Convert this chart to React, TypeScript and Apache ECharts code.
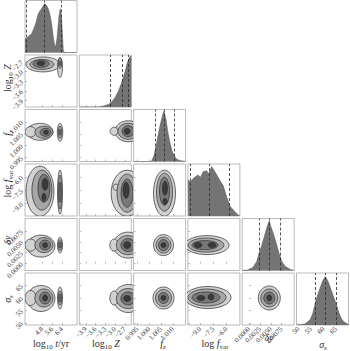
import React, { useEffect, useRef } from 'react';
import * as echarts from 'echarts';

// ---- parameter axes ----
const P_MIN = [3.4, -4.1, 0.9933, -10.4, -0.0016, 49.2];
const P_MAX = [7.6, -2.5, 1.0154, -4.5, 0.0104, 70];
const TICKS_T = [4.8, 5.6, 6.4];
const TICKS_Z = [-3.9, -3.6, -3.3, -3.0, -2.7];
const TICKS_FZ = [0.995, 1.0, 1.005, 1.01];
const TICKS_FV = [-9.0, -7.5, -6.0];
const TICKS_DY = [0.0, 0.0025, 0.005, 0.0075];
const TICKS_S = [50, 55, 60, 65];
const TICKS = [TICKS_T, TICKS_Z, TICKS_FZ, TICKS_FV, TICKS_DY, TICKS_S];
const DEC = [1, 1, 3, 1, 4, 0];

// ---- 1D histograms (x, relative height) ----
const HX_T = [3.40, 3.55, 3.67, 3.80, 3.94, 4.08, 4.21, 4.34, 4.47, 4.60, 4.74, 4.88, 5.01, 5.15, 5.26, 5.36, 5.46, 5.55, 5.68, 5.82, 5.92, 6.00, 6.08, 6.14, 6.20, 6.25, 6.31, 6.36, 6.43, 6.49, 6.60, 7.60];
const HY_T = [0.26, 0.28, 0.31, 0.33, 0.36, 0.44, 0.52, 0.62, 0.74, 0.80, 0.84, 0.90, 0.94, 0.90, 0.85, 0.78, 0.67, 0.55, 0.30, 0.10, 0.16, 0.30, 0.52, 0.68, 0.78, 0.84, 0.76, 0.62, 0.30, 0.04, 0.0, 0.0];
const Q_T = [3.48, 4.96, 6.36];

const HX_Z = [-4.10, -3.50, -3.35, -3.20, -3.10, -3.00, -2.90, -2.80, -2.70, -2.62, -2.56, -2.52, -2.50];
const HY_Z = [0.0, 0.0, 0.02, 0.05, 0.10, 0.18, 0.30, 0.46, 0.66, 0.85, 0.95, 0.98, 0.90];
const Q_Z = [-3.15, -2.78, -2.60];

const HX_FZ = [0.9933, 1.0005, 1.0011, 1.0020, 1.0029, 1.0037, 1.0046, 1.0054, 1.0062, 1.0071, 1.0079, 1.0088, 1.0096, 1.0105, 1.0113, 1.0122, 1.0139, 1.0154];
const HY_FZ = [0.0, 0.0, 0.02, 0.12, 0.30, 0.50, 0.70, 0.85, 0.97, 0.80, 0.55, 0.35, 0.20, 0.12, 0.06, 0.03, 0.01, 0.0];
const Q_FZ = [1.0024, 1.0062, 1.0105];

const HX_FV = [-10.40, -10.37, -10.10, -9.80, -9.50, -9.23, -9.00, -8.66, -8.28, -8.02, -7.71, -7.34, -6.96, -6.39, -6.01, -5.63, -5.07, -4.69, -4.50];
const HY_FV = [0.69, 0.69, 0.66, 0.72, 0.76, 0.79, 0.74, 0.85, 0.87, 0.81, 0.95, 0.85, 0.74, 0.58, 0.37, 0.19, 0.08, 0.02, 0.0];
const Q_FV = [-10.1, -8.02, -5.71];

const HX_DY = [-0.0016, -0.0003, 0.0009, 0.0018, 0.0023, 0.0029, 0.0035, 0.0040, 0.0046, 0.0052, 0.0058, 0.0064, 0.0069, 0.0075, 0.0083, 0.0095, 0.0104];
const HY_DY = [0.0, 0.01, 0.06, 0.18, 0.33, 0.48, 0.65, 0.80, 0.95, 0.80, 0.65, 0.48, 0.33, 0.18, 0.08, 0.02, 0.0];
const Q_DY = [0.00235, 0.00465, 0.0071];

const HX_S = [49.2, 50.0, 52.6, 54.65, 55.7, 56.7, 57.7, 58.7, 59.7, 60.7, 61.7, 62.7, 63.9, 65.1, 66.1, 67.15, 68.2, 69.2, 70.0];
const HY_S = [0.0, 0.0, 0.02, 0.10, 0.22, 0.42, 0.58, 0.72, 0.85, 0.93, 0.85, 0.72, 0.56, 0.40, 0.24, 0.12, 0.06, 0.03, 0.01];
const Q_S = [56.7, 60.7, 65.1];

const HX = [HX_T, HX_Z, HX_FZ, HX_FV, HX_DY, HX_S];
const HY = [HY_T, HY_Z, HY_FZ, HY_FV, HY_DY, HY_S];
const QS = [Q_T, Q_Z, Q_FZ, Q_FV, Q_DY, Q_S];

// ---- 2D contour levels: [level, x, y, halfWidthX, halfWidthY] ----
const C_Z_T = [
  [1, 4.85, -2.79, 1.37, 0.23], [1, 6.23, -2.88, 0.20, 0.31],
  [2, 4.77, -2.79, 0.97, 0.154], [2, 6.23, -2.76, 0.145, 0.154],
  [3, 4.69, -2.77, 0.65, 0.108], [3, 6.23, -2.76, 0.08, 0.077],
  [4, 4.69, -2.76, 0.32, 0.062],
];
const C_FZ_T = [
  [1, 4.61, 1.00592, 1.05, 0.00361], [1, 3.85, 1.00592, 0.45, 0.0022], [1, 6.23, 1.00571, 0.22, 0.00382],
  [2, 4.93, 1.00571, 0.73, 0.00255], [2, 6.23, 1.00571, 0.145, 0.00255],
  [3, 5.06, 1.00571, 0.44, 0.0017], [3, 6.23, 1.00571, 0.08, 0.00127],
  [4, 5.10, 1.00571, 0.20, 0.00085],
];
const C_FV_T = [
  [1, 4.61, -7.59, 1.13, 2.84], [1, 6.23, -7.70, 0.20, 2.5],
  [2, 4.77, -7.47, 0.81, 2.27], [2, 6.23, -7.70, 0.145, 1.93],
  [3, 4.93, -7.25, 0.48, 1.59], [3, 6.23, -7.70, 0.08, 1.14],
  [4, 5.02, -6.79, 0.24, 0.68], [4, 4.93, -8.27, 0.16, 0.45],
];
const C_DY_T = [
  [1, 4.69, 0.00403, 1.13, 0.00254], [1, 3.85, 0.00426, 0.45, 0.0014], [1, 6.23, 0.00426, 0.20, 0.00185],
  [2, 4.93, 0.00426, 0.73, 0.00173], [2, 6.23, 0.00426, 0.145, 0.00127],
  [3, 5.02, 0.00426, 0.44, 0.00115], [3, 6.23, 0.00426, 0.08, 0.0007],
  [4, 5.02, 0.00426, 0.20, 0.00058],
];
const C_S_T = [
  [1, 4.69, 59.8, 1.13, 5.2], [1, 3.85, 60.0, 0.45, 3.0], [1, 6.23, 60.0, 0.20, 4.4],
  [2, 4.93, 60.0, 0.73, 3.6], [2, 6.23, 60.0, 0.145, 2.8],
  [3, 5.02, 60.0, 0.44, 2.4], [3, 6.23, 60.0, 0.08, 1.6],
  [4, 5.02, 60.0, 0.20, 1.2],
];
const C_FZ_Z = [
  [1, -2.60, 1.00615, 0.40, 0.00446], [1, -3.03, 1.00615, 0.123, 0.0017],
  [2, -2.60, 1.00615, 0.31, 0.0034],
  [3, -2.60, 1.00615, 0.185, 0.00234],
  [4, -2.63, 1.00615, 0.092, 0.00127],
];
const C_FV_Z = [
  [1, -2.63, -7.81, 0.49, 2.61], [1, -2.97, -7.13, 0.092, 0.34],
  [2, -2.63, -7.81, 0.31, 2.16],
  [3, -2.63, -7.81, 0.185, 1.59],
  [4, -2.66, -7.47, 0.092, 0.91],
];
const C_DY_Z = [
  [1, -2.60, 0.00426, 0.45, 0.003], [1, -3.03, 0.00426, 0.13, 0.0014],
  [2, -2.60, 0.00426, 0.36, 0.0022],
  [3, -2.60, 0.00426, 0.22, 0.0015],
  [4, -2.63, 0.00426, 0.108, 0.00081],
];
const C_S_Z = [
  [1, -2.60, 59.8, 0.45, 5.6], [1, -3.03, 60.0, 0.13, 2.8],
  [2, -2.60, 59.8, 0.36, 4.0],
  [3, -2.60, 59.8, 0.22, 2.6],
  [4, -2.63, 59.8, 0.108, 1.2],
];
const C_FV_FZ = [
  [1, 1.00643, -7.81, 0.00467, 2.61],
  [2, 1.00643, -7.70, 0.0034, 2.16],
  [3, 1.00643, -7.59, 0.00212, 1.59],
  [4, 1.00664, -7.25, 0.00106, 0.79], [4, 1.00664, -8.73, 0.00085, 0.34],
];
const C_DY_FZ = [
  [1, 1.00601, 0.00426, 0.00425, 0.00242],
  [2, 1.00601, 0.00426, 0.00319, 0.00185],
  [3, 1.00601, 0.00426, 0.00212, 0.00127],
  [4, 1.00601, 0.00426, 0.00106, 0.00058],
];
const C_S_FZ = [
  [1, 1.00601, 60.0, 0.00446, 4.4],
  [2, 1.00601, 60.0, 0.0034, 3.4],
  [3, 1.00601, 60.0, 0.00212, 2.2],
  [4, 1.00601, 60.0, 0.00106, 1.0],
];
const C_DY_FV = [
  [1, -8.23, 0.00426, 2.5, 0.00219],
  [2, -8.35, 0.00426, 2.04, 0.00162],
  [3, -8.46, 0.00426, 1.48, 0.00104],
  [4, -9.25, 0.00426, 0.45, 0.00058], [4, -7.66, 0.00426, 0.45, 0.00058],
];
const C_S_FV = [
  [1, -8.12, 60.2, 2.61, 4.4],
  [2, -8.23, 60.2, 2.16, 3.4],
  [3, -8.35, 60.2, 1.59, 2.2],
  [4, -8.91, 60.0, 0.45, 1.0], [4, -7.78, 60.4, 0.34, 1.2],
];
const C_S_DY = [
  [1, 0.00465, 60.0, 0.00254, 4.8],
  [2, 0.00465, 60.0, 0.00196, 3.6],
  [3, 0.00465, 60.0, 0.00127, 2.4],
  [4, 0.00465, 60.0, 0.00058, 1.2],
];
const CONTOURS: Record<string, number[][]> = {
  '1-0': C_Z_T, '2-0': C_FZ_T, '3-0': C_FV_T, '4-0': C_DY_T, '5-0': C_S_T,
  '2-1': C_FZ_Z, '3-1': C_FV_Z, '4-1': C_DY_Z, '5-1': C_S_Z,
  '3-2': C_FV_FZ, '4-2': C_DY_FZ, '5-2': C_S_FZ,
  '4-3': C_DY_FV, '5-3': C_S_FV,
  '5-4': C_S_DY,
};

// ---- styling / layout ----
const SERIF = "'Liberation Serif', 'DejaVu Serif', serif";
const FRAME = '#a8a8a8';
const LABEL = '#3c3c3c';
const TITLE_C = '#2e2e2e';
const LEVEL_FILL = ['', '#d2d2d2', '#a6a6a6', '#787878', '#3a3a3a'];
const HIST_FILL = '#747474';
const X0 = 25, SX = 54.3, Y0 = 0.5, SY = 54.5, W = 52, H = 52;

const fmt = (v: number, p: number) => {
  const s = (Math.abs(v) < 1e-12 ? 0 : v).toFixed(DEC[p]);
  return s.replace('-', '\u2212');
};

const RICH = {
  r: { fontSize: 10, fontFamily: SERIF, fill: TITLE_C, lineHeight: 14 },
  i: { fontSize: 10, fontFamily: SERIF, fontStyle: 'italic', fill: TITLE_C, lineHeight: 14 },
  s: { fontSize: 7, fontFamily: SERIF, fill: TITLE_C, verticalAlign: 'bottom', lineHeight: 10 },
  si: { fontSize: 7, fontFamily: SERIF, fontStyle: 'italic', fill: TITLE_C, verticalAlign: 'bottom', lineHeight: 10 },
};
const X_TITLES: [number, number, string][] = [
  [51, 343, '{r|log}{s|10}{r| }{i|t}{r|/yr}'],
  [106, 343, '{r|log}{s|10}{r| }{i|Z}'],
  [163, 343, '{i|f}{si|z}'],
  [215, 343, '{r|log }{i|f}{s|var}'],
  [269, 337, '{i|δy}'],
  [323, 344, '{i|σ}{si|s}'],
];
const Y_TITLES: [number, number, string][] = [
  [7, 78, '{r|log}{s|10}{r| }{i|Z}'],
  [7, 133, '{i|f}{si|z}'],
  [7, 184, '{r|log }{i|f}{s|var}'],
  [7, 240, '{i|δy}'],
  [7, 299, '{i|σ}{si|s}'],
];

function ellipseItem(params: any, api: any) {
  const lvl = api.value(0);
  const cx = api.value(1), cy = api.value(2);
  const c = api.coord([cx, cy]);
  const s = api.size([api.value(3), api.value(4)], [cx, cy]);
  const pts: number[][] = [];
  const n = 48;
  for (let k = 0; k < n; k++) {
    const a = (k / n) * Math.PI * 2;
    pts.push([c[0] + s[0] * Math.cos(a), c[1] + s[1] * Math.sin(a)]);
  }
  return {
    type: 'polygon',
    shape: { points: pts },
    style: { fill: LEVEL_FILL[lvl], stroke: '#2b2b2b', lineWidth: 0.7 },
  };
}

function buildOption() {
  const grid: any[] = [], xAxis: any[] = [], yAxis: any[] = [], series: any[] = [];
  let gi = 0;
  for (let r = 0; r < 6; r++) {
    for (let c = 0; c <= r; c++) {
      grid.push({
        left: X0 + c * SX, top: Y0 + r * SY, width: W, height: H,
        show: true, borderColor: FRAME, borderWidth: 0.8, backgroundColor: 'transparent',
      });
      xAxis.push({
        gridIndex: gi, type: 'value', min: P_MIN[c], max: P_MAX[c],
        axisLine: { show: false },
        axisTick: { show: true, inside: true, length: 2, lineStyle: { color: FRAME, width: 0.8 }, customValues: TICKS[c] },
        axisLabel: {
          show: r === 5, customValues: TICKS[c], rotate: 45, fontSize: 7, fontFamily: SERIF,
          color: LABEL, margin: 3, formatter: (v: number) => fmt(v, c),
        },
        splitLine: { show: false },
      });
      if (r === c) {
        yAxis.push({ gridIndex: gi, type: 'value', min: 0, max: 1, show: false });
        series.push({
          type: 'line', xAxisIndex: gi, yAxisIndex: gi, symbol: 'none', silent: true,
          data: HX[c].map((x, k) => [x, HY[c][k]]),
          lineStyle: { width: 0.6, color: '#5a5a5a' },
          areaStyle: { color: HIST_FILL, opacity: 1 },
          markLine: {
            silent: true, symbol: ['none', 'none'], label: { show: false }, precision: 8,
            lineStyle: { type: [3, 2], color: '#2b2b2b', width: 0.8 },
            data: QS[c].map((q) => ({ xAxis: q })),
          },
        });
      } else {
        yAxis.push({
          gridIndex: gi, type: 'value', min: P_MIN[r], max: P_MAX[r],
          axisLine: { show: false },
          axisTick: { show: true, inside: true, length: 2, lineStyle: { color: FRAME, width: 0.8 }, customValues: TICKS[r] },
          axisLabel: {
            show: c === 0, customValues: TICKS[r], rotate: 45, fontSize: 7, fontFamily: SERIF,
            color: LABEL, margin: 3, formatter: (v: number) => fmt(v, r),
          },
          splitLine: { show: false },
        });
        const data = (CONTOURS[`${r}-${c}`] || []).slice().sort((a, b) => a[0] - b[0]);
        series.push({
          type: 'custom', xAxisIndex: gi, yAxisIndex: gi, clip: true, silent: true,
          renderItem: ellipseItem, data,
        });
      }
      gi++;
    }
  }
  const elements: any[] = [];
  X_TITLES.forEach(([x, y, t]) => elements.push({
    type: 'text', x, y, silent: true,
    style: { text: t, rich: RICH, align: 'center', verticalAlign: 'middle', fill: TITLE_C, fontSize: 10, fontFamily: SERIF },
  }));
  Y_TITLES.forEach(([x, y, t]) => elements.push({
    type: 'text', x, y, rotation: Math.PI / 2, silent: true,
    style: { text: t, rich: RICH, align: 'center', verticalAlign: 'middle', fill: TITLE_C, fontSize: 10, fontFamily: SERIF },
  }));
  return {
    animation: false,
    backgroundColor: '#ffffff',
    grid, xAxis, yAxis, series,
    graphic: { elements },
  };
}

export default function App() {
  const ref = useRef<HTMLDivElement>(null);
  useEffect(() => {
    if (!ref.current) return;
    const chart = echarts.init(ref.current, undefined, { renderer: 'svg' });
    chart.setOption(buildOption() as any);
    return () => chart.dispose();
  }, []);
  return <div ref={ref} style={{ position: 'absolute', left: 0, top: 0, width: 350, height: 351 }} />;
}
